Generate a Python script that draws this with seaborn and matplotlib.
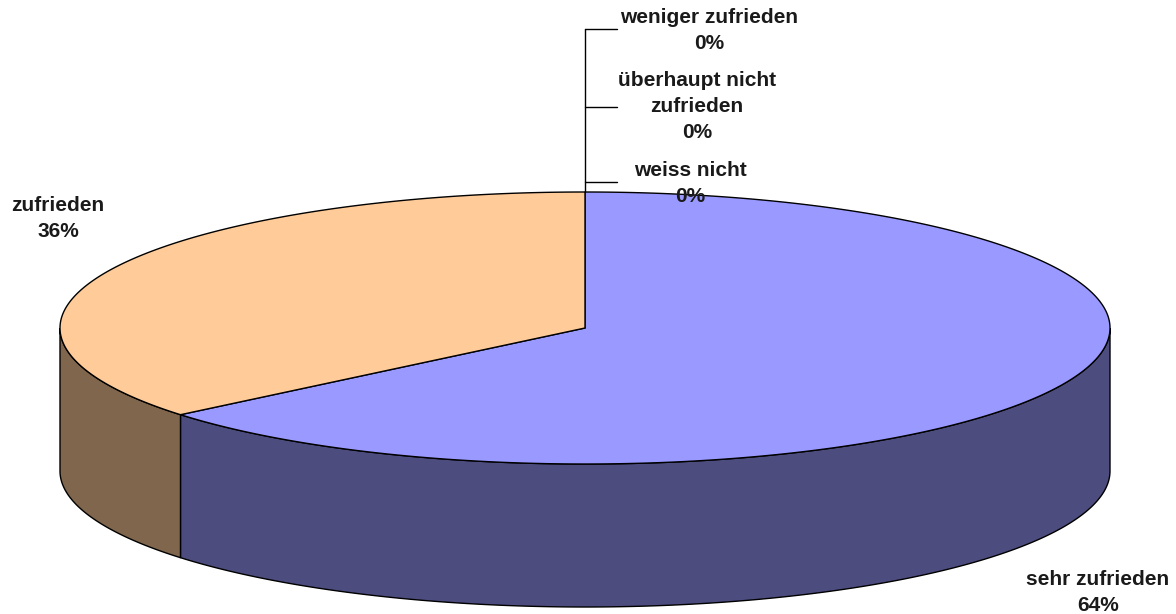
"""
3D pie chart - Zufriedenheit
"""

import numpy as np
import matplotlib.pyplot as plt
from matplotlib.patches import Polygon
import seaborn as sns

# Data
categories = ['sehr zufrieden', 'zufrieden', 'weniger zufrieden',
              'überhaupt nicht zufrieden', 'weiss nicht']
values = [64, 36, 0, 0, 0]
label_texts = ['sehr zufrieden', 'zufrieden', 'weniger zufrieden',
               'überhaupt nicht\nzufrieden', 'weiss nicht']

# Styles
top_colors = ['#9999FF', '#FFCC99', '#993366', '#FFFFCC', '#CCFFFF']
side_colors = ['#4C4C7F', '#7F664C', '#4C1933', '#7F7F66', '#667F7F']

sns.set_theme(style='white')
plt.rcParams['font.family'] = ['Liberation Sans', 'DejaVu Sans']

W, H = 1176, 614
fig = plt.figure(figsize=(W / 100, H / 100), dpi=100)
ax = fig.add_axes([0, 0, 1, 1])
ax.set_xlim(0, W)
ax.set_ylim(H, 0)
ax.axis('off')

# Geometry of the pie (pixel space)
cx, cy = 585, 328
rx, ry = 525, 136
depth = 143


def pt(theta_deg, dy=0.0):
    t = np.radians(theta_deg)
    return cx + rx * np.cos(t), cy - ry * np.sin(t) + dy


# Slice angles: start at 12 o'clock, clockwise
total = sum(values)
angles = []
start = 90.0
for v in values:
    span = 360.0 * v / total
    angles.append((start - span, start))
    start -= span

# Side walls (front half: 180..360 deg)
for (a0, a1), col, v in zip(angles, side_colors, values):
    if v == 0:
        continue
    lo, hi = a0 % 360, a0 % 360 + (a1 - a0)
    for shift in (0, -360, 360):
        s0 = max(lo + shift, 180)
        s1 = min(hi + shift, 360)
        if s1 <= s0:
            continue
        th = np.linspace(s0, s1, 200)
        top = [pt(t) for t in th]
        bot = [pt(t, depth) for t in th[::-1]]
        ax.add_patch(Polygon(top + bot, closed=True, facecolor=col,
                             edgecolor='black', linewidth=1.0, zorder=1))

# Top surface
for (a0, a1), col, v in zip(angles, top_colors, values):
    if v == 0:
        continue
    th = np.linspace(a0, a1, 400)
    verts = [(cx, cy)] + [pt(t) for t in th]
    ax.add_patch(Polygon(verts, closed=True, facecolor=col,
                         edgecolor='black', linewidth=1.0, zorder=2))

# Labels
fs = 15
ls = 1.45
tcol = '#1a1a1a'
ax.text(58, 196, f'{label_texts[1]}\n{values[1]}%', ha='center', va='top',
        fontsize=fs, fontweight='bold', color=tcol, linespacing=ls, zorder=5)
ax.text(1098, 570, f'{label_texts[0]}\n{values[0]}%', ha='center', va='top',
        fontsize=fs, fontweight='bold', color=tcol, linespacing=ls, zorder=5)

# Zero-value labels with leader lines
ax.plot([585, 585], [29, 192], color='black', linewidth=1.0, zorder=4)
small = [(2, 709, 8, 29), (3, 697, 71, 107), (4, 690, 161, 182)]
for idx, tx, ty, ly in small:
    ax.plot([585, 617], [ly, ly], color='black', linewidth=1.0, zorder=4)
    ax.text(tx, ty, f'{label_texts[idx]}\n{values[idx]}%', ha='center',
            va='top', fontsize=fs, fontweight='bold', color=tcol,
            linespacing=ls, zorder=5)

fig.savefig('out.png', dpi=100)
